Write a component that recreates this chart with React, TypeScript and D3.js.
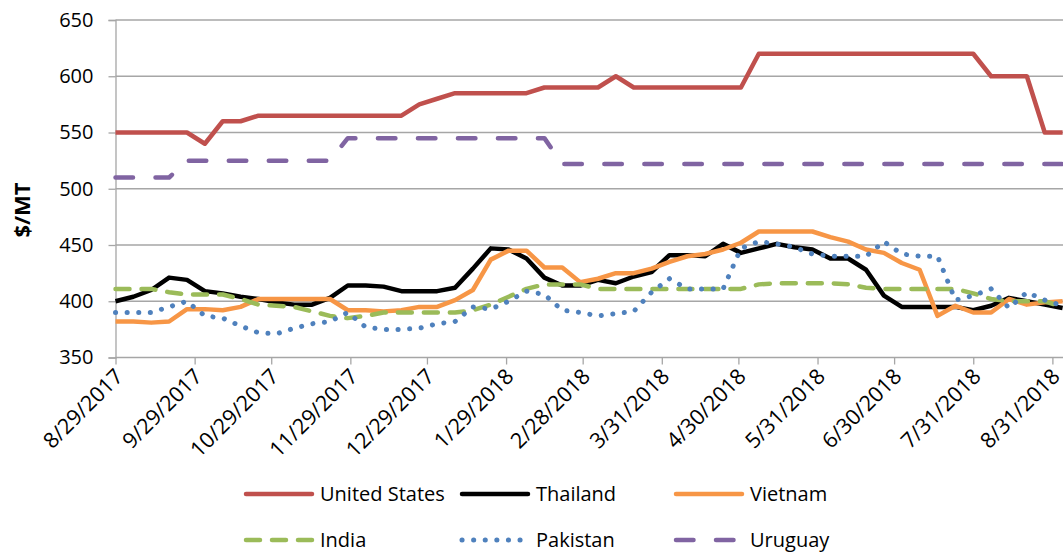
import { useRef, useEffect } from 'react';
import * as d3 from 'd3';

// weekly price observations, $/MT
const dates = [
  '2017-08-29', '2017-09-05', '2017-09-12', '2017-09-19', '2017-09-26',
  '2017-10-03', '2017-10-10', '2017-10-17', '2017-10-24', '2017-10-31',
  '2017-11-07', '2017-11-14', '2017-11-21', '2017-11-28',
  '2017-12-05', '2017-12-12', '2017-12-19', '2017-12-26',
  '2018-01-02', '2018-01-09', '2018-01-16', '2018-01-23', '2018-01-30',
  '2018-02-06', '2018-02-13', '2018-02-20', '2018-02-27',
  '2018-03-06', '2018-03-13', '2018-03-20', '2018-03-27',
  '2018-04-03', '2018-04-10', '2018-04-17', '2018-04-24',
  '2018-05-01', '2018-05-08', '2018-05-15', '2018-05-22', '2018-05-29',
  '2018-06-05', '2018-06-12', '2018-06-19', '2018-06-26',
  '2018-07-03', '2018-07-10', '2018-07-17', '2018-07-24', '2018-07-31',
  '2018-08-07', '2018-08-14', '2018-08-21', '2018-08-28', '2018-09-04',
];

const unitedStates = [
  550, 550, 550, 550, 550, 540, 560, 560, 565, 565, 565, 565, 565, 565, 565, 565, 565, 575,
  580, 585, 585, 585, 585, 585, 590, 590, 590, 590, 600, 590, 590, 590, 590, 590, 590, 590,
  620, 620, 620, 620, 620, 620, 620, 620, 620, 620, 620, 620, 620, 600, 600, 600, 550, 550,
];
const thailand = [
  400, 404, 410, 421, 419, 409, 407, 404, 402, 399, 397, 397, 403, 414, 414, 413, 409, 409,
  409, 412, 429, 447, 446, 438, 421, 414, 414, 419, 416, 422, 426, 441, 441, 440, 451, 443,
  447, 451, 448, 446, 438, 438, 428, 405, 395, 395, 395, 395, 392, 396, 403, 400, 397, 394,
];
const vietnam = [
  382, 382, 381, 382, 393, 393, 392, 395, 402, 402, 402, 402, 402, 392, 392, 391, 392, 395,
  395, 401, 410, 437, 445, 445, 430, 430, 417, 420, 425, 425, 429, 435, 440, 442, 446, 452,
  462, 462, 462, 462, 457, 453, 446, 443, 434, 428, 387, 396, 390, 390, 402, 397, 399, 400,
];
const india = [
  411, 411, 411, 408, 406, 406, 406, 402, 397, 396, 395, 391, 387, 385, 387, 390, 390, 390,
  390, 390, 392, 397, 404, 411, 415, 415, 415, 411, 411, 411, 411, 411, 411, 411, 411, 411,
  415, 416, 416, 416, 416, 415, 412, 411, 411, 411, 411, 411, 407, 402, 400, 400, 400, 395,
];
const pakistan = [
  390, 390, 390, 395, 400, 387, 385, 378, 372, 371, 376, 380, 382, 390, 377, 375, 375, 376,
  380, 382, 395, 393, 400, 409, 406, 392, 390, 387, 389, 391, 408, 420, 411, 411, 411, 447,
  453, 451, 448, 442, 440, 440, 440, 453, 442, 440, 440, 401, 405, 411, 394, 408, 401, 396,
];
const uruguay = [
  510, 510, 510, 510, 525, 525, 525, 525, 525, 525, 525, 525, 525, 545, 545, 545, 545, 545,
  545, 545, 545, 545, 545, 545, 545, 522, 522, 522, 522, 522, 522, 522, 522, 522, 522, 522,
  522, 522, 522, 522, 522, 522, 522, 522, 522, 522, 522, 522, 522, 522, 522, 522, 522, 522,
];

const tickDates = [
  '2017-08-29', '2017-09-29', '2017-10-29', '2017-11-29', '2017-12-29', '2018-01-29',
  '2018-02-28', '2018-03-31', '2018-04-30', '2018-05-31', '2018-06-30', '2018-07-31', '2018-08-31',
];
const yTicks = [350, 400, 450, 500, 550, 600, 650];

const series = [
  { name: 'United States', values: unitedStates, color: '#c0504d', dash: null, width: 4.5 },
  { name: 'Thailand', values: thailand, color: '#000000', dash: null, width: 4.5 },
  { name: 'Vietnam', values: vietnam, color: '#f79646', dash: null, width: 4.5 },
  { name: 'India', values: india, color: '#9bbb59', dash: '14 12', width: 4.5 },
  { name: 'Pakistan', values: pakistan, color: '#4f81bd', dash: '0.1 11.5', width: 5 },
  { name: 'Uruguay', values: uruguay, color: '#8064a2', dash: '17.5 22.5', width: 4.5 },
];

const W = 1063;
const H = 552;
const FONT = '"Open Sans", sans-serif';

export default function App() {
  const svgRef = useRef(null);

  useEffect(() => {
    const svg = d3.select(svgRef.current);
    svg.selectAll('*').remove();

    const parse = d3.timeParse('%Y-%m-%d');
    const xDates = dates.map(parse);

    const x = d3.scaleTime().domain([xDates[0], xDates[xDates.length - 1]]).range([115.5, 1062.6]);
    const y = d3.scaleLinear().domain([350, 650]).range([357.5, 20]);

    // horizontal gridlines
    svg.append('g')
      .selectAll('line')
      .data(yTicks)
      .join('line')
      .attr('x1', 115.5)
      .attr('x2', W)
      .attr('y1', d => y(d))
      .attr('y2', d => y(d))
      .attr('stroke', '#a6a6a6')
      .attr('stroke-width', 1.3);

    const yAxis = svg.append('g')
      .attr('transform', 'translate(115.5,0)')
      .call(d3.axisLeft(y).tickValues(yTicks).tickSize(7).tickPadding(15));
    yAxis.select('.domain').attr('stroke', '#a6a6a6').attr('stroke-width', 1.3);
    yAxis.selectAll('.tick line').attr('stroke', '#a6a6a6').attr('stroke-width', 1.3);
    yAxis.selectAll('text')
      .attr('font-family', FONT)
      .attr('font-size', 20)
      .attr('fill', '#000');

    const xAxis = svg.append('g')
      .attr('transform', 'translate(0,357.5)')
      .call(
        d3.axisBottom(x)
          .tickValues(tickDates.map(parse))
          .tickSize(7)
          .tickFormat(d3.timeFormat('%-m/%-d/%Y')),
      );
    xAxis.select('.domain').remove();
    xAxis.selectAll('.tick line').attr('stroke', '#a6a6a6').attr('stroke-width', 1.3);
    xAxis.selectAll('text')
      .attr('font-family', FONT)
      .attr('font-size', 21.5)
      .attr('fill', '#000')
      .attr('text-anchor', 'end')
      .attr('x', 0)
      .attr('y', 0)
      .attr('dy', '0.35em')
      .attr('transform', 'translate(3,15) rotate(-45)');

    svg.append('text')
      .attr('transform', 'translate(22,210) rotate(-90)')
      .attr('text-anchor', 'middle')
      .attr('dy', '0.35em')
      .attr('font-family', FONT)
      .attr('font-weight', 'bold')
      .attr('font-size', 22)
      .text('$/MT');

    const line = d3.line()
      .x((d, i) => x(xDates[i]))
      .y(d => y(d));

    svg.append('g')
      .selectAll('path')
      .data(series)
      .join('path')
      .attr('d', s => line(s.values))
      .attr('fill', 'none')
      .attr('stroke', s => s.color)
      .attr('stroke-width', s => s.width)
      .attr('stroke-linejoin', 'round')
      .attr('stroke-linecap', s => (s.dash ? 'round' : 'butt'))
      .attr('stroke-dasharray', s => s.dash);

    // legend, 3 columns x 2 rows
    const colX = [244, 460, 674];
    const rowY = [494, 540];
    const legend = svg.append('g')
      .selectAll('g')
      .data(series)
      .join('g')
      .attr('transform', (s, i) => `translate(${colX[i % 3]},${rowY[Math.floor(i / 3)]})`);
    legend.append('line')
      .attr('x1', 2)
      .attr('x2', 68)
      .attr('stroke', s => s.color)
      .attr('stroke-width', s => s.width)
      .attr('stroke-linecap', 'round')
      .attr('stroke-dasharray', s => s.dash);
    legend.append('text')
      .attr('x', 76)
      .attr('dy', '0.35em')
      .attr('font-family', FONT)
      .attr('font-size', 20)
      .text(s => s.name);
  }, []);

  return (
    <svg
      ref={svgRef}
      width={W}
      height={H}
      style={{ position: 'absolute', left: 0, top: 0, background: '#fff' }}
    />
  );
}
